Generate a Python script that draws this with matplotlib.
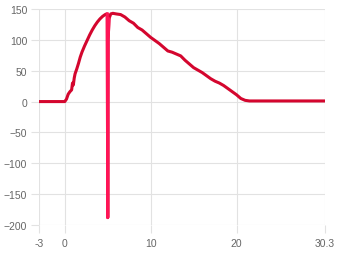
import matplotlib
matplotlib.use("Agg")
import matplotlib.pyplot as plt

# main series
x_main = [-3, -2, -1, 0, 0.2, 0.4, 0.6, 0.8, 0.9, 1.0, 1.1, 1.2, 1.4, 1.6, 1.8, 2.0,
          2.3, 2.6, 2.9, 3.2, 3.5, 3.8, 4.1, 4.4, 4.7, 4.9, 4.95, 5.0, 5.05, 5.15, 5.35,
          5.6, 6.0, 6.5, 7.0, 7.5, 8.0, 8.5, 9.0, 9.5, 10.0, 10.5, 11.0, 11.5, 12.0, 12.5,
          13.0, 13.5, 14.0, 14.5, 15.0, 15.5, 16.0, 16.5, 17.0, 17.5, 18.0, 18.5,
          19.0, 19.5, 20.0, 20.5, 21.0, 21.5, 22, 24, 26, 28, 30.3]
y_main = [0, 0, 0, 0, 4, 12, 16, 19, 30, 27, 38, 45, 53, 62, 72, 80,
          90, 99, 108, 116, 123, 129, 134, 138, 141, 142, 142, -188, 100, 134, 142,
          143, 142, 141, 137, 131, 127, 120, 116, 110, 104, 99, 94, 88, 82, 80,
          77, 74, 67, 61, 55, 51, 47, 42, 37, 33, 30, 26,
          21, 16, 11, 5, 2, 1, 1, 1, 1, 1, 1]

# spike segment (highlighted)
x_spike = [4.95, 5.0, 5.05, 5.15]
y_spike = [142, -188, 100, 134]

x_ticks = [-3, 0, 10, 20, 30.3]
x_ticklabels = ["-3", "0", "10", "20", "30.3"]
y_ticks = [-200, -150, -100, -50, 0, 50, 100, 150]

plt.rcParams['font.family'] = ['Liberation Sans', 'DejaVu Sans']

fig = plt.figure(figsize=(3.4, 2.55), dpi=100)
ax = fig.add_axes([39/340, 1-226/255, (325-39)/340, (226-10)/255])

ax.plot(x_main, y_main, color='#d4062e', lw=2.2, solid_joinstyle='round', zorder=3)
ax.plot(x_spike, y_spike, color='#ff1456', lw=2.2, solid_joinstyle='round', zorder=4)

ax.set_xlim(-3, 30.3)
ax.set_ylim(-200, 150)
ax.set_xticks(x_ticks)
ax.set_xticklabels(x_ticklabels)
ax.set_yticks(y_ticks)
ax.grid(True, color='#e2e2e2', lw=0.8)
ax.set_axisbelow(True)
for s in ax.spines.values():
    s.set_visible(False)
ax.tick_params(axis='both', colors='#e2e2e2', length=5.5, width=0.8,
               labelcolor='#666666', labelsize=7.5)
ax.tick_params(axis='x', pad=4)
ax.tick_params(axis='y', pad=3)

fig.savefig("out.png", dpi=100)
